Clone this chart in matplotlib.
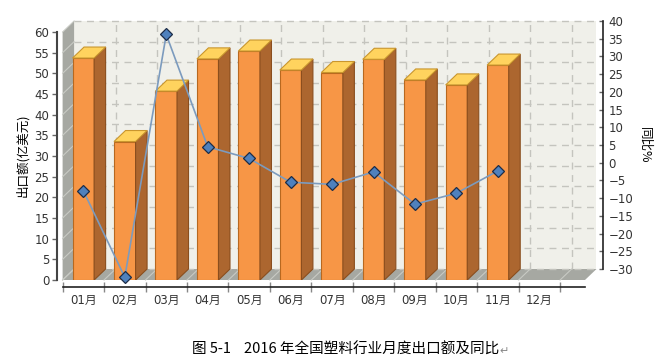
import matplotlib
matplotlib.use('Agg')  # sin GUI
import matplotlib.pyplot as plt
from matplotlib.patches import Polygon, Rectangle
import numpy as np

# datos
months = ['01月', '02月', '03月', '04月', '05月', '06月',
          '07月', '08月', '09月', '10月', '11月', '12月']
export_value = [53.7, 33.5, 45.7, 53.5, 55.4, 50.8, 50.2, 53.4, 48.4, 47.2, 52.0]
yoy_pct = [-4.8, -29.2, 39.3, 7.6, 4.3, -2.4, -3.0, 0.5, -8.6, -5.5, 0.8]
left_ticks = list(range(0, 61, 5))
right_ticks = list(range(-30, 41, 5))

plt.rcParams['font.family'] = ['DejaVu Sans', 'Noto Sans CJK SC']

W, H, DPI = 664, 363, 100
fig = plt.figure(figsize=(W / DPI, H / DPI), dpi=DPI)

# plano frontal en pixeles y profundidad 3D
x0, x1, y0, y1 = 62.6, 585, 280, 32
dx, dy = 11.5, 11
xlim = (-0.5, 12.1)
ylim = (0, 60)

ax = fig.add_axes([x0 / W, 1 - y0 / H, (x1 - x0) / W, (y0 - y1) / H])
ax.set_xlim(*xlim)
ax.set_ylim(*ylim)
ax.patch.set_visible(False)

# profundidad en unidades de datos
ddx = dx / ((x1 - x0) / (xlim[1] - xlim[0]))
ddy = dy / ((y0 - y1) / (ylim[1] - ylim[0]))
xl, xr = xlim
ytop = ylim[1]

wall_gray = '#A6A8A2'
# pared del fondo, pared izquierda y piso
ax.add_patch(Rectangle((xl + ddx, ddy), xr - xl, ytop, fc='#F0F0EA', ec='none',
                       zorder=0, clip_on=False))
ax.add_patch(Polygon([(xl, 0), (xl + ddx, ddy), (xl + ddx, ytop + ddy), (xl, ytop)],
                     fc=wall_gray, ec='none', zorder=0, clip_on=False))
ax.add_patch(Polygon([(xl, 0), (xr, 0), (xr + ddx, ddy), (xl + ddx, ddy)],
                     fc=wall_gray, ec='none', zorder=0, clip_on=False))

# rejilla
grid_kw = dict(color='#C4C4BE', lw=1, ls=(0, (5, 4)), zorder=0.5, clip_on=False)
for v in left_ticks:
    ax.plot([xl + ddx, xr + ddx], [v + ddy, v + ddy], **grid_kw)
    ax.plot([xl, xl + ddx], [v, v + ddy], color='#C8CAC4', lw=0.8, zorder=0.5,
            clip_on=False)
for b in np.arange(0.5, 12, 1):
    ax.plot([b + ddx, b + ddx], [ddy, ytop + ddy], **grid_kw)
for b in np.arange(-0.5, 12.5, 1):
    ax.plot([b, b + ddx], [0, ddy], color='#C8CAC4', lw=0.8, zorder=0.5,
            clip_on=False)

# barras 3D
x = np.arange(len(export_value))
bw = 0.52
ax.bar(x, export_value, bw, color='#F79646', edgecolor='#B8681F', lw=0.8, zorder=3)
for xi, v in zip(x, export_value):
    ax.add_patch(Polygon([(xi + bw / 2, 0), (xi + bw / 2 + ddx, ddy),
                          (xi + bw / 2 + ddx, v + ddy), (xi + bw / 2, v)],
                         fc='#AC662F', ec='#8A4E1E', lw=0.8, zorder=3))
    ax.add_patch(Polygon([(xi - bw / 2, v), (xi + bw / 2, v),
                          (xi + bw / 2 + ddx, v + ddy), (xi - bw / 2 + ddx, v + ddy)],
                         fc='#FFD35E', ec='#C9962E', lw=0.8, zorder=3))

# ejes izquierdo e inferior
for s in ['top', 'right']:
    ax.spines[s].set_visible(False)
ax.spines['left'].set_position(('outward', 4))
ax.spines['left'].set_color('#444444')
ax.spines['left'].set_linewidth(1.5)
ax.spines['bottom'].set_position(('outward', 5))
ax.spines['bottom'].set_color('#222222')
ax.spines['bottom'].set_linewidth(1.2)
ax.set_yticks(left_ticks)
ax.tick_params(axis='y', direction='out', length=3.6, width=1, color='#666666',
               labelsize=8.5, pad=2, labelcolor='#333333')
ax.set_xticks(range(12))
ax.set_xticklabels(months)
ax.set_xticks(np.arange(-0.5, 12, 1), minor=True)
ax.tick_params(axis='x', which='major', length=0, pad=5, labelsize=8.5,
               labelcolor='#333333')
ax.tick_params(axis='x', which='minor', direction='inout', length=7, width=1,
               color='#888888')

# linea del porcentaje (plano frontal)
ax2 = ax.twinx()
ax2.set_ylim(-30, 40)
ax2.axis('off')
ax2.plot(x, yoy_pct, color='#7C9BBE', lw=1.2, marker='D', ms=6,
         mfc='#4F81BD', mec='#1C2C48', mew=0.9, clip_on=False, zorder=4)

# eje derecho (plano del fondo)
ax3 = fig.add_axes([(x0 + dx) / W, 1 - (y0 - dy) / H, (x1 - x0) / W, (y0 - y1) / H])
ax3.set_ylim(-30, 40)
ax3.patch.set_visible(False)
for s in ['top', 'left', 'bottom']:
    ax3.spines[s].set_visible(False)
ax3.spines['right'].set_position(('outward', 4.7))
ax3.spines['right'].set_color('#222222')
ax3.spines['right'].set_linewidth(1.2)
ax3.set_xticks([])
ax3.yaxis.tick_right()
ax3.set_yticks(right_ticks)
ax3.tick_params(axis='y', direction='in', length=3, width=1, color='#666666',
                labelsize=8.5, pad=4, labelcolor='#333333')

# titulos de ejes y pie
fig.text(22 / W, 1 - 155 / H, '出口额(亿美元)', rotation=90, ha='center', va='center',
         fontsize=9, family=['Noto Sans CJK SC', 'DejaVu Sans'])
fig.text(645 / W, 1 - 145 / H, '同比%', rotation=270, ha='center', va='center',
         fontsize=9, family=['Noto Sans CJK SC', 'DejaVu Sans'])
cap = fig.text(346 / W, 1 - 350 / H, '图 5-1    2016 年全国塑料行业月度出口额及同比',
               ha='center', va='center', fontsize=10.5,
               family=['Noto Sans CJK SC', 'DejaVu Sans'])
plt.annotate('↵', xy=(1, 0.1), xycoords=cap, ha='left', va='bottom',
             fontsize=8, color='#888888', family=['DejaVu Sans'])

fig.savefig('out.png', dpi=DPI, facecolor='white')
plt.close(fig)
